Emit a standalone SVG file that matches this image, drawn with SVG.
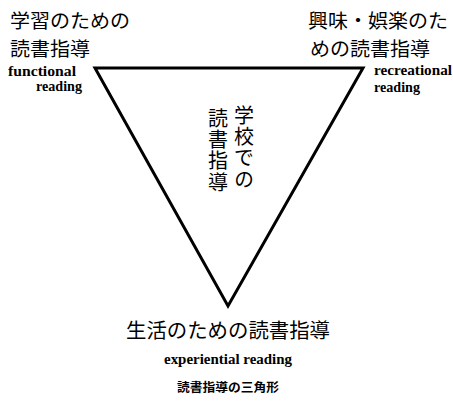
<svg xmlns="http://www.w3.org/2000/svg" width="453" height="403" viewBox="0 0 453 403">
<style>
.jp{font-family:"Noto Sans CJK JP","Noto Sans CJK SC",sans-serif;font-size:20px;fill:#000}
.hd{font-size:19px}
.vt{writing-mode:vertical-rl;text-orientation:upright}
.en{font-family:"Liberation Serif",serif;font-size:15px;font-weight:bold;fill:#000}
.cap{font-family:"Noto Sans CJK JP",sans-serif;font-size:12px;font-weight:bold;fill:#000}
.tri{fill:none;stroke:#000;stroke-width:3;stroke-linejoin:miter}
</style>
<rect width="453" height="403" fill="#fff"/>
<g id="connectors">
<polygon class="tri" points="95,68 363,68 228,306"/>
</g>
<g id="node-functional">
<text class="jp hd" x="10" y="28" textLength="120" lengthAdjust="spacingAndGlyphs">学習のための</text>
<text class="jp hd" x="10" y="56" textLength="80" lengthAdjust="spacingAndGlyphs">読書指導</text>
<text class="en" x="8" y="76" textLength="68" lengthAdjust="spacingAndGlyphs">functional</text>
<text class="en" x="36" y="91" textLength="46" lengthAdjust="spacingAndGlyphs">reading</text>
</g>
<g id="node-recreational">
<text class="jp hd" x="308" y="28" textLength="140" lengthAdjust="spacingAndGlyphs">興味・娯楽のた</text>
<text class="jp hd" x="310" y="56" textLength="120" lengthAdjust="spacingAndGlyphs">めの読書指導</text>
<text class="en" x="374" y="75" textLength="78" lengthAdjust="spacingAndGlyphs">recreational</text>
<text class="en" x="374" y="92" textLength="46" lengthAdjust="spacingAndGlyphs">reading</text>
</g>
<g id="node-school">
<text class="jp vt" x="244" y="105" textLength="84" lengthAdjust="spacing">学校での</text>
<text class="jp vt" x="218" y="108" textLength="84" lengthAdjust="spacing">読書指導</text>
</g>
<g id="node-experiential">
<text class="jp" x="228" y="338" text-anchor="middle" textLength="204" lengthAdjust="spacingAndGlyphs">生活のための読書指導</text>
<text class="en" x="228" y="364" text-anchor="middle" textLength="128" lengthAdjust="spacingAndGlyphs">experiential reading</text>
</g>
<g id="caption">
<text class="cap" x="228" y="392" text-anchor="middle" textLength="102" lengthAdjust="spacingAndGlyphs">読書指導の三角形</text>
</g>
</svg>
